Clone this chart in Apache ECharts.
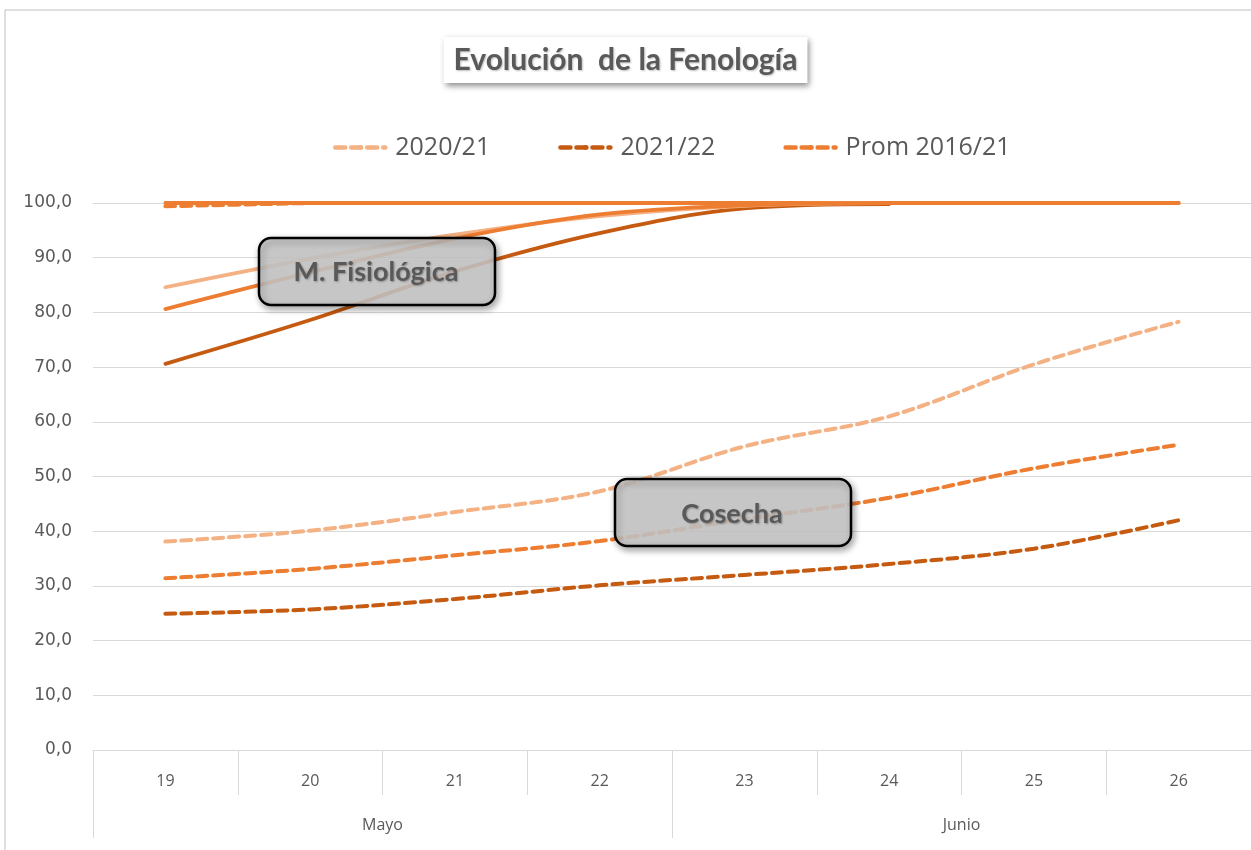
<!DOCTYPE html>
<html>
<head>
<meta charset="utf-8">
<script src="https://cdn.jsdelivr.net/npm/echarts@6/dist/echarts.min.js"></script>
<style>
  html, body { margin: 0; padding: 0; background: #fff; }
  #chart { width: 1251px; height: 850px; }
</style>
</head>
<body>
<div id="chart"></div>
<script>
// categorias del eje x
var dias = ['19', '20', '21', '22', '23', '24', '25', '26'];
var meses = ['Mayo', 'Junio'];
var yTicks = [0, 100, 10]; // min, max, intervalo

// Cosecha (lineas punteadas)
var cos2020 = [38.1, 40.1, 43.5, 47.3, 55.5, 61.0, 70.5, 78.3];
var cos2021 = [24.9, 25.7, 27.6, 30.1, 32.0, 34.0, 36.8, 42.0];
var cosProm = [31.4, 33.1, 35.6, 38.2, 42.2, 46.1, 51.5, 55.8];

// M. Fisiologica (lineas continuas)
var mf2020 = [84.6, 89.8, 94.2, 97.6, 99.5, 100, 100, 100];
var mf2021 = [70.6, 78.6, 87.5, 94.5, 99.0, 99.8, null, null];
var mfProm = [80.6, 87.3, 93.5, 97.9, 99.6, 100, 100, 100];

// otras etapas ya completas
var etapaProm = [100, 100, 100, 100, 100, 100, 100, 100];
var etapaPromDash = [99.4, 100, null, null, null, null, null, null];

var colClaro = '#F4B183', colOscuro = '#C55A11', colMedio = '#ED7D31';
var gris = '#595959';
var rayas = [10, 6];

var chart = echarts.init(document.getElementById('chart'));

function linea(name, data, color, dashed) {
    return {
        name: name,
        type: 'line',
        data: data,
        smooth: 0.35,
        symbol: 'none',
        connectNulls: false,
        lineStyle: {
            color: color,
            width: dashed ? 4 : 3.8,
            type: dashed ? rayas : 'solid',
            cap: 'round'
        },
        itemStyle: { color: color }
    };
}

var cajaEstilo = {
    fill: 'rgba(204,204,204,0.84)', stroke: '#000', lineWidth: 2.5,
    shadowBlur: 7, shadowColor: 'rgba(0,0,0,0.4)', shadowOffsetX: 2, shadowOffsetY: 3
};
function textoCaja(t) {
    return {
        text: t, fill: gris, align: 'center', verticalAlign: 'middle',
        font: 'bold 27px Lato',
        textShadowColor: 'rgba(0,0,0,0.3)', textShadowBlur: 2, textShadowOffsetX: 1, textShadowOffsetY: 1
    };
}

var option = {
    animation: false,
    title: {
        text: 'Evolución  de la Fenología',
        left: 'center',
        top: 37,
        padding: [8, 10, 8, 10],
        backgroundColor: '#fff',
        shadowBlur: 6,
        shadowColor: 'rgba(0,0,0,0.45)',
        shadowOffsetX: 2,
        shadowOffsetY: 3,
        textStyle: {
            fontFamily: 'Lato',
            fontSize: 30,
            fontWeight: 'bold',
            color: gris,
            textShadowColor: 'rgba(0,0,0,0.25)',
            textShadowBlur: 2,
            textShadowOffsetX: 1,
            textShadowOffsetY: 1
        }
    },
    legend: {
        data: ['2020/21', '2021/22', 'Prom 2016/21'],
        top: 130,
        left: 328,
        itemWidth: 50,
        itemHeight: 6,
        itemGap: 68,
        lineStyle: { width: 4.5, type: [10, 6], cap: 'round' },
        textStyle: { fontFamily: 'Open Sans', fontSize: 25, color: gris, padding: [0, 0, 0, 5] }
    },
    grid: { left: 93, right: 0, top: 203, bottom: 100 },
    xAxis: [{
        type: 'category',
        data: dias,
        axisLine: { lineStyle: { color: '#d9d9d9', width: 1 } },
        axisTick: { show: true, interval: 0, length: 45, lineStyle: { color: '#d9d9d9' } },
        axisLabel: { margin: 23, fontFamily: 'Open Sans', fontSize: 16, color: gris }
    }, {
        type: 'category',
        data: meses,
        position: 'bottom',
        offset: 45,
        axisLine: { show: false },
        axisTick: { show: true, interval: 0, length: 43, lineStyle: { color: '#d9d9d9' } },
        axisLabel: { margin: 22, fontFamily: 'Open Sans', fontSize: 16, color: gris }
    }],
    yAxis: {
        type: 'value',
        min: yTicks[0],
        max: yTicks[1],
        interval: yTicks[2],
        axisLine: { show: false },
        axisTick: { show: false },
        splitLine: { lineStyle: { color: '#d9d9d9' } },
        axisLabel: {
            margin: 21,
            fontFamily: 'DejaVu Sans',
            fontSize: 17,
            color: gris,
            formatter: function (v) { return v.toFixed(1).replace('.', ','); }
        }
    },
    series: [
        linea('etapa', etapaPromDash, colMedio, true),
        linea('etapa sol', etapaProm, colMedio, false),
        linea('2021/22 MF', mf2021, colOscuro, false),
        linea('2020/21 MF', mf2020, colClaro, false),
        linea('Prom MF', mfProm, colMedio, false),
        linea('2020/21', cos2020, colClaro, true),
        linea('2021/22', cos2021, colOscuro, true),
        linea('Prom 2016/21', cosProm, colMedio, true)
    ],
    graphic: [
        {
            type: 'rect', z: 100, silent: true,
            shape: { x: 5, y: 10, width: 1300, height: 900 },
            style: { fill: 'none', stroke: '#bfbfbf', lineWidth: 1 }
        },
        {
            type: 'rect', z: 100,
            shape: { x: 259, y: 238, width: 236, height: 67, r: 12 },
            style: cajaEstilo
        },
        {
            type: 'text', z: 101,
            x: 376, y: 272,
            style: textoCaja('M. Fisiológica')
        },
        {
            type: 'rect', z: 100,
            shape: { x: 615, y: 479, width: 236, height: 67, r: 12 },
            style: cajaEstilo
        },
        {
            type: 'text', z: 101,
            x: 732, y: 514,
            style: textoCaja('Cosecha')
        }
    ]
};

chart.setOption(option);
</script>
</body>
</html>
